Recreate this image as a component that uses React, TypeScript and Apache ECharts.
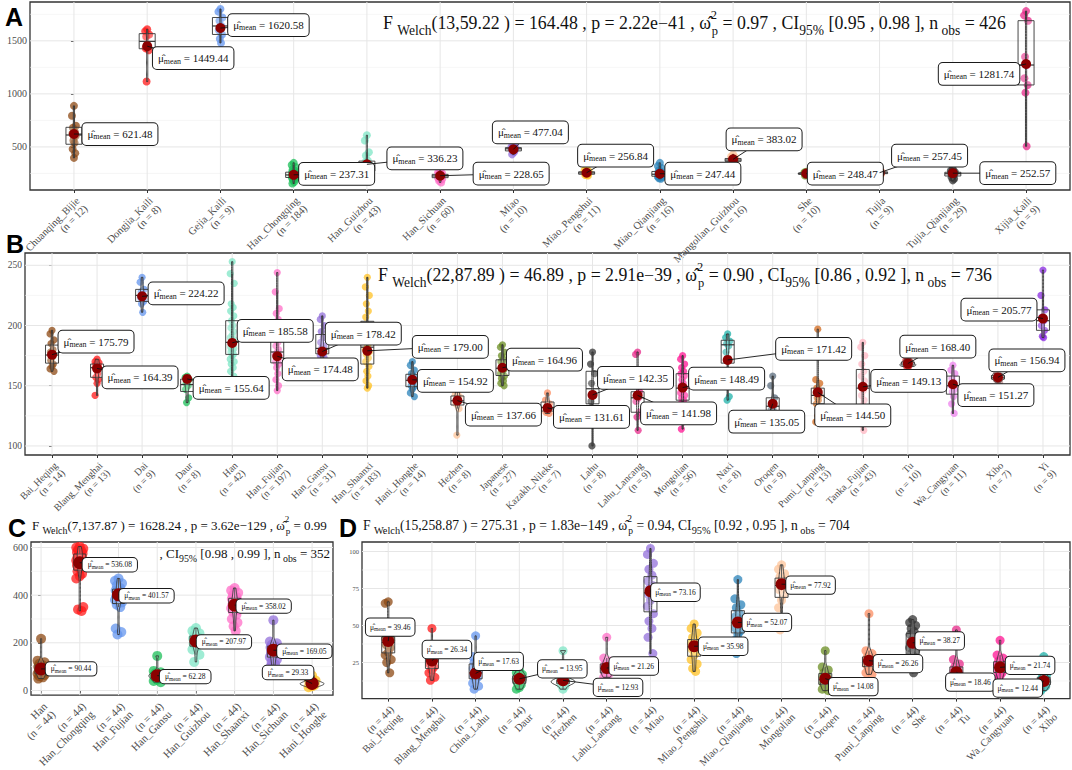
import React, { useEffect, useRef } from "react";
import * as echarts from "echarts";

const SERIF = '"Liberation Serif", "DejaVu Serif", "Times New Roman", serif';
const SANS = '"Liberation Sans", Arial, sans-serif';

// ---------------- shared palette (by category position) ----------------
const palette = [
  "#8E4A14", "#FF1A1A", "#6495ED", "#1DBF5A", "#7FE5C6", "#FF6EC7", "#9370DB", "#FFC125",
  "#2B83BA", "#FDC49A", "#6B8E23", "#FC8D62", "#333333", "#E7298A", "#FF1493", "#20B2AA",
  "#5B6C7D", "#D2691E", "#FFB6C1", "#CD2626", "#EE82EE", "#BC8F8F", "#8A2BE2",
];

// ---------------- Panel A ----------------
const catsA = ["Chuanqing_Bijie", "Dongjia_Kaili", "Gejia_Kaili", "Han_Chongqing", "Han_Guizhou", "Han_Sichuan", "Miao", "Miao_Pengshui", "Miao_Qianjiang", "Mongolian_Guizhou", "She", "Tujia", "Tujia_Qianjiang", "Xijia_Kaili"];
const nA = [12, 8, 9, 184, 43, 60, 10, 11, 16, 16, 10, 9, 29, 9];
const meanA = [621.48, 1449.44, 1620.58, 237.31, 336.23, 228.65, 477.04, 256.84, 247.44, 383.02, 248.47, 257.45, 252.57, 1281.74];
const pointsA = [
  [887, 794, 700, 680, 640, 625, 600, 560, 540, 481, 440, 397],
  [1609, 1590, 1560, 1540, 1450, 1430, 1412, 1116],
  [1800, 1775, 1720, 1690, 1640, 1600, 1560, 1520, 1480],
  [350, 330, 310, 290, 275, 262, 255, 250, 245, 240, 236, 232, 228, 224, 220, 212, 205, 195, 185, 170, 155],
  [610, 560, 450, 420, 370, 355, 345, 335, 325, 315, 300, 290, 280, 270, 262, 255, 245, 235],
  [275, 262, 252, 245, 240, 235, 231, 228, 225, 222, 218, 212, 205, 195, 180, 165],
  [510, 500, 495, 490, 485, 480, 470, 460, 450, 430],
  [290, 280, 270, 262, 258, 255, 250, 245, 240, 235, 230],
  [350, 320, 300, 280, 265, 255, 250, 245, 240, 235, 230, 225, 220, 215, 205, 200],
  [430, 410, 400, 395, 390, 385, 380, 378, 375, 372, 370, 365, 360, 355, 350, 345],
  [265, 260, 255, 252, 250, 248, 245, 242, 238, 230],
  [285, 275, 265, 260, 255, 250, 248, 245, 235],
  [290, 275, 265, 260, 255, 250, 245, 240, 230, 215, 200, 185],
  [1780, 1740, 1690, 1350, 1272, 1147, 1084, 1012, 506],
];
const yTicksA = [500, 1000, 1500];
const yMinorA = [250, 750, 1250, 1750];
const titleA = "{t|F }{s|Welch}{t|(13,59.22 ) = 164.48 , p = 2.22e\u221241 , \u03C9\u0302}{sp|2}{sb|p}{t| = 0.97 , CI}{s|95%}{t| [0.95 , 0.98 ], n}{s| obs}{t| = 426}";

// ---------------- Panel B ----------------
const catsB = ["Bai_Heqing", "Blang_Menghai", "Dai", "Daur", "Han", "Han_Fujian", "Han_Gansu", "Han_Shaanxi", "Hani_Honghe", "Hezhen", "Japanese", "Kazakh_Nileke", "Lahu", "Lahu_Lancang", "Mongolian", "Naxi", "Oroqen", "Pumi_Lanping", "Tanka_Fujian", "Tu", "Wa_Cangyuan", "Xibo", "Yi"];
const nB = [14, 13, 9, 8, 42, 197, 31, 183, 14, 8, 27, 7, 8, 9, 56, 8, 9, 13, 43, 10, 11, 7, 9];
const meanB = [175.79, 164.39, 224.22, 155.64, 185.58, 174.48, 178.42, 179.0, 154.92, 137.66, 164.96, 131.61, 142.35, 141.98, 148.49, 171.42, 135.05, 144.5, 149.13, 168.4, 151.27, 156.94, 205.77];
const pointsB = [
  [196, 193, 188, 185, 180, 178, 176, 175, 174, 171, 168, 166, 164, 162],
  [172, 170, 169, 168, 167, 166, 165, 163, 160, 157, 155, 152, 142],
  [240, 236, 230, 228, 225, 223, 220, 218, 211],
  [158, 157, 155, 152, 150, 147, 140, 136],
  [253, 243, 235, 218, 215, 212, 208, 204, 200, 198, 195, 192, 190, 188, 186, 184, 182, 181, 180, 179, 178, 176, 175, 172, 170, 168, 165, 162, 158],
  [244, 228, 214, 210, 205, 200, 195, 190, 186, 183, 180, 178, 176, 175, 174, 172, 170, 168, 165, 160, 155, 150, 146],
  [208, 205, 200, 195, 190, 186, 183, 181, 179, 178, 177, 176, 175, 173, 170],
  [240, 232, 225, 218, 212, 207, 200, 196, 192, 188, 185, 182, 180, 178, 176, 173, 170, 166, 162, 158, 154, 150, 148],
  [170, 167, 163, 160, 158, 156, 155, 154, 152, 150, 149, 147, 144, 141],
  [145, 143, 141, 138, 137, 135, 131, 109],
  [184, 182, 178, 175, 172, 170, 168, 166, 165, 164, 163, 162, 160, 158, 156, 154, 152, 150],
  [144, 138, 135, 132, 130, 128, 127],
  [178, 168, 160, 152, 143, 137, 129, 100],
  [178, 176, 145, 142, 140, 137, 128, 124, 113],
  [175, 172, 168, 165, 162, 160, 158, 155, 152, 150, 148, 146, 144, 142, 140, 138, 135, 130, 125, 120, 114],
  [193, 190, 187, 185, 183, 178, 141, 138],
  [158, 150, 140, 136, 133, 130, 128, 126, 124],
  [197, 155, 152, 148, 146, 144, 142, 140, 138, 135, 130, 125, 120],
  [186, 182, 175, 168, 162, 158, 154, 150, 146, 142, 138, 134, 128, 122, 118, 113],
  [172, 171, 170, 169, 168, 168, 167, 167, 166, 166],
  [167, 163, 160, 156, 153, 150, 147, 145, 141, 135, 127],
  [160, 159, 158, 157, 156, 155, 153],
  [246, 225, 213, 207, 204, 200, 196, 191, 190],
];
const yTicksB = [100, 150, 200, 250];
const yMinorB = [125, 175, 225];
const titleB = "{t|F }{s|Welch}{t|(22,87.89 ) = 46.89 , p = 2.91e\u221239 , \u03C9\u0302}{sp|2}{sb|p}{t| = 0.90 , CI}{s|95%}{t| [0.86 , 0.92 ], n}{s| obs}{t| = 736}";

// ---------------- Panel C ----------------
const catsC = ["Han", "Han_Chongqing", "Han_Fujian", "Han_Gansu", "Han_Guizhou", "Han_Shaanxi", "Han_Sichuan", "Hani_Honghe"];
const nC = [44, 44, 44, 44, 44, 44, 44, 44];
const meanC = [90.44, 536.08, 401.57, 62.28, 207.97, 358.02, 169.05, 29.33];
const pointsC = [
  [217, 125, 118, 112, 106, 100, 95, 90, 86, 82, 78, 74, 70, 65, 60, 55, 50],
  [604, 600, 595, 590, 585, 580, 575, 570, 565, 560, 555, 550, 545, 540, 535, 530, 525, 520, 515, 510, 500, 490, 480, 470, 350, 340, 334],
  [470, 460, 450, 440, 430, 420, 412, 405, 400, 395, 390, 385, 380, 370, 360, 350, 260, 245, 235],
  [145, 82, 76, 72, 68, 65, 62, 60, 58, 55, 50, 45, 40, 35],
  [262, 250, 240, 232, 225, 218, 212, 207, 202, 196, 190, 182, 172, 150, 120],
  [430, 420, 410, 400, 392, 385, 378, 372, 366, 360, 355, 350, 345, 338, 330, 318, 300, 285, 270, 250],
  [295, 205, 198, 192, 186, 180, 175, 170, 165, 160, 155, 150, 140, 130, 120, 110, 100],
  [62, 50, 42, 38, 34, 32, 30, 28, 26, 24, 22, 18, 14],
];
const yTicksC = [0, 200, 400, 600];
const yMinorC = [100, 300, 500];
const titleC1 = "{t|F }{s|Welch}{t|(7,137.87 ) = 1628.24 , p = 3.62e\u2212129 , \u03C9\u0302}{sp|2}{sb|p}{t| = 0.99}";
const titleC2 = "{t|, CI}{s|95%}{t| [0.98 , 0.99 ], n}{s| obs}{t| = 352}";

// ---------------- Panel D ----------------
const catsD = ["Bai_Heqing", "Blang_Menghai", "China_Lahu", "Daur", "Hezhen", "Lahu_Lancang", "Miao", "Miao_Pengshui", "Miao_Qianjiang", "Mongolian", "Oroqen", "Pumi_Lanping", "She", "Tu", "Wa_Cangyuan", "Xibo"];
const nD = [44, 44, 44, 44, 44, 44, 44, 44, 44, 44, 44, 44, 44, 44, 44, 44];
const meanD = [39.46, 26.34, 17.63, 13.95, 12.93, 21.26, 73.16, 35.98, 52.07, 77.92, 14.08, 26.26, 38.27, 18.46, 21.74, 12.44];
const pointsD = [
  [66, 65, 45, 43, 42, 41, 40, 39, 38, 37, 35, 32, 30, 27, 25, 18],
  [48, 33, 31, 30, 29, 28, 27, 26, 25, 24, 22, 20, 18, 15, 13],
  [43, 29, 27, 25, 23, 21, 19, 18, 17, 16, 15, 13, 11, 9, 7],
  [20, 18, 17, 16, 15, 14, 14, 13, 12, 11, 10, 8, 7],
  [33, 15, 14, 13, 13, 12, 12, 11, 11, 10, 9, 7],
  [42, 28, 26, 24, 23, 22, 21, 20, 19, 18, 17, 16, 15],
  [102, 98, 92, 88, 84, 80, 77, 75, 73, 71, 69, 67, 63, 58, 53, 48, 42, 31],
  [51, 48, 45, 42, 40, 38, 37, 36, 35, 34, 32, 30, 27, 24, 21, 19],
  [81, 68, 64, 62, 58, 56, 54, 52, 50, 48, 46, 44, 40, 37, 31],
  [91, 88, 85, 83, 81, 79, 78, 77, 76, 74, 71, 67, 62, 55, 47],
  [33, 22, 20, 18, 16, 15, 14, 13, 12, 11, 10, 9, 7, 6],
  [58, 33, 31, 29, 28, 27, 26, 25, 24, 23, 22, 20, 18, 17],
  [54, 52, 50, 48, 46, 44, 42, 40, 39, 38, 37, 36, 35, 33, 31, 29, 27, 24, 21, 18],
  [47, 27, 24, 22, 20, 19, 18, 17, 16, 15, 14, 12, 10],
  [40, 30, 28, 26, 24, 23, 22, 21, 20, 19, 18, 16, 14, 11],
  [29, 20, 17, 15, 14, 13, 12, 12, 11, 10, 9, 8, 6],
];
const yTicksD = [25, 50, 75, 100];
const yMinorD = [12.5, 37.5, 62.5, 87.5];
const titleD = "{t|F }{s|Welch}{t|(15,258.87 ) = 275.31 , p = 1.83e\u2212149 , \u03C9\u0302}{sp|2}{sb|p}{t| = 0.94, CI}{s|95%}{t| [0.92 , 0.95 ], n}{s| obs}{t| = 704}";

// ---------------- layout (positions / sizes / styles) ----------------
const labelOffA = [[46, 0], [46, 12], [48, -3], [43, -1], [58, -6], [71, -2], [17, -17], [29, -17], [43, 0], [31, -20], [39, 0], [50, -17], [65, 0], [-47, 10]];
const labelOffB = [[44, -13], [43, 9], [44, -3], [44, 9], [43, -12], [43, 13], [41, -18], [83, -4], [43, 1], [46, 14], [42, -8], [44, 9], [43, -17], [41, 18], [44, -9], [86, -11], [-6, 18], [35, 23], [46, -6], [30, -17], [43, 11], [29, -17], [-44, -9]];
const labelOffC = [[30, 0], [30, 2], [28, 1], [28, 1], [28, 1], [29, 1], [31, 1], [-24, -11]];
const labelOffD = [[2, -14], [15, -11], [23, -12], [43, -10], [55, 7], [27, -2], [25, 1], [29, 0], [29, 0], [29, 1], [28, 8], [29, 3], [27, -2], [14, 10], [30, -2], [-26, 7]];

type Panel = any;

const panels: Panel[] = [
  {
    cats: catsA, ns: nA, means: meanA, pts: pointsA, off: labelOffA,
    xLabel: (i: number) => `${catsA[i]}\n(n = ${nA[i]})`,
    grid: { left: 30, top: 2, width: 1040, height: 188 },
    xMin: -0.6, xMax: 13.6, yMin: 94, yMax: 1866, yMajor: yTicksA, yMinor: yMinorA,
    boxW: 16, violinHalf: 8, ptR: 4, meanR: 5, jitter: 2, labelFs: 11, labelPad: [4, 5], yFs: 10, xFs: 10.5,
  },
  {
    cats: catsB, ns: nB, means: meanB, pts: pointsB, off: labelOffB,
    xLabel: (i: number) => `${catsB[i]}\n(n = ${nB[i]})`,
    grid: { left: 25, top: 253, width: 1045, height: 202 },
    xMin: -0.6, xMax: 22.6, yMin: 92.5, yMax: 260.2, yMajor: yTicksB, yMinor: yMinorB,
    boxW: 13, violinHalf: 8, ptR: 3.6, meanR: 5, jitter: 2, labelFs: 11, labelPad: [4, 5], yFs: 9.5, xFs: 10,
  },
  {
    cats: catsC, ns: nC, means: meanC, pts: pointsC, off: labelOffC,
    xLabel: (i: number) => (i === 0 ? `${catsC[i]}\n(n = ${nC[i]})` : `(n = ${nC[i]})\n${catsC[i]}`),
    grid: { left: 31, top: 542, width: 302, height: 165 },
    xMin: -0.26, xMax: 7.54, yMin: -19.5, yMax: 623, yMajor: yTicksC, yMinor: yMinorC,
    boxW: 12, violinHalf: 12, ptR: 5, meanR: 6.5, jitter: 3.5, labelFs: 7.5, labelPad: [2, 5], yFs: 10, xFs: 11,
  },
  {
    cats: catsD, ns: nD, means: meanD, pts: pointsD, off: labelOffD,
    xLabel: (i: number) => `(n = ${nD[i]})\n${catsD[i]}`,
    grid: { left: 362, top: 542, width: 708, height: 165 },
    xMin: -0.6, xMax: 15.6, yMin: 0.6, yMax: 106.4, yMajor: yTicksD, yMinor: yMinorD,
    boxW: 13, violinHalf: 12, ptR: 4.5, meanR: 6, jitter: 3, labelFs: 7.5, labelPad: [4, 4], yFs: 6.5, xFs: 10.5,
  },
];

// ---------------- helpers ----------------
function quantile(s: number[], p: number) {
  const pos = (s.length - 1) * p;
  const lo = Math.floor(pos);
  const hi = Math.ceil(pos);
  return s[lo] + (s[hi] - s[lo]) * (pos - lo);
}
function boxStats(vals: number[]) {
  const s = [...vals].sort((a, b) => a - b);
  const q1 = quantile(s, 0.25), med = quantile(s, 0.5), q3 = quantile(s, 0.75);
  const iqr = q3 - q1;
  const lo = s.find((v) => v >= q1 - 1.5 * iqr) as number;
  const hi = [...s].reverse().find((v) => v <= q3 + 1.5 * iqr) as number;
  return { q1, med, q3, lo, hi };
}
function kde(vals: number[], m = 48) {
  const s = [...vals].sort((a, b) => a - b);
  const n = s.length;
  const mean = s.reduce((a, b) => a + b, 0) / n;
  const sd = Math.sqrt(s.reduce((a, b) => a + (b - mean) * (b - mean), 0) / (n - 1));
  const iqr = quantile(s, 0.75) - quantile(s, 0.25);
  let lo = Math.min(sd, iqr / 1.34);
  if (!(lo > 0)) lo = sd > 0 ? sd : 1;
  const bw = 0.9 * lo * Math.pow(n, -0.2);
  const ys: number[] = [];
  const ds: number[] = [];
  for (let j = 0; j <= m; j++) {
    const y = s[0] + ((s[n - 1] - s[0]) * j) / m;
    let d = 0;
    for (const v of s) {
      const z = (y - v) / bw;
      d += Math.exp(-0.5 * z * z);
    }
    ys.push(y);
    ds.push(d / (n * bw * Math.sqrt(2 * Math.PI)));
  }
  return { ys, ds };
}
const jitterPattern = [0, -1, 1, -0.5, 0.5, -0.8, 0.8, -0.3, 0.3, -0.65, 0.65];

function alpha(hex: string, a: number) {
  const h = hex.replace("#", "");
  const r = parseInt(h.slice(0, 2), 16), g = parseInt(h.slice(2, 4), 16), b = parseInt(h.slice(4, 6), 16);
  return `rgba(${r},${g},${b},${a})`;
}

function statRich(fs: number) {
  return {
    t: { fontFamily: SERIF, fontSize: fs, fill: "#111", lineHeight: fs * 1.6, align: "left" },
    s: { fontFamily: SERIF, fontSize: fs * 0.76, fill: "#111", lineHeight: fs * 0.9, verticalAlign: "bottom", align: "left" },
    sb: { fontFamily: SERIF, fontSize: fs * 0.7, fill: "#111", lineHeight: fs * 0.85, verticalAlign: "bottom", align: "left" },
    sp: { fontFamily: SERIF, fontSize: fs * 0.7, fill: "#111", lineHeight: fs * 0.85, verticalAlign: "top", width: 1, align: "left" },
  };
}

function buildOption() {
  const grids: any[] = [];
  const xAxes: any[] = [];
  const yAxes: any[] = [];
  const gridSeries: any[] = [];
  const markSeries: any[] = [];
  const labelSeries: any[] = [];

  panels.forEach((P: Panel, k: number) => {
    const idxs = P.cats.map((_: string, i: number) => i);
    grids.push({ ...P.grid, show: true, borderColor: "#333", borderWidth: 1.3, backgroundColor: "#fff" });
    xAxes.push({
      type: "value", gridIndex: k, min: P.xMin, max: P.xMax,
      axisLine: { show: false }, splitLine: { show: false },
      axisTick: { show: true, customValues: idxs, length: 3, lineStyle: { color: "#333", width: 1 } },
      axisLabel: {
        customValues: idxs, rotate: 45, align: "right", verticalAlign: "top", margin: 5,
        formatter: (v: number) => P.xLabel(Math.round(v)),
        fontFamily: SERIF, fontSize: P.xFs, lineHeight: P.xFs * 1.05, color: "#4D4D4D",
      },
    });
    yAxes.push({
      type: "value", gridIndex: k, min: P.yMin, max: P.yMax,
      axisLine: { show: false }, splitLine: { show: false },
      axisTick: { show: true, customValues: P.yMajor, length: 3, lineStyle: { color: "#333", width: 1 } },
      axisLabel: { customValues: P.yMajor, margin: 3, fontFamily: SERIF, fontSize: P.yFs, color: "#4D4D4D", formatter: (v: number) => String(v) },
    });

    // grid lines
    gridSeries.push({
      type: "custom", xAxisIndex: k, yAxisIndex: k, silent: true,
      data: [[0, P.yMajor[1]]],
      renderItem: (params: any, api: any) => {
        const cs = params.coordSys;
        const ch: any[] = [];
        P.yMinor.forEach((v: number) => {
          const y = api.coord([0, v])[1];
          ch.push({ type: "line", shape: { x1: cs.x, y1: y, x2: cs.x + cs.width, y2: y }, style: { stroke: "#F0F0F0", lineWidth: 0.6 } });
        });
        P.yMajor.forEach((v: number) => {
          const y = api.coord([0, v])[1];
          ch.push({ type: "line", shape: { x1: cs.x, y1: y, x2: cs.x + cs.width, y2: y }, style: { stroke: "#E6E6E6", lineWidth: 1 } });
        });
        idxs.forEach((i: number) => {
          const x = api.coord([i, P.yMajor[0]])[0];
          ch.push({ type: "line", shape: { x1: x, y1: cs.y, x2: x, y2: cs.y + cs.height }, style: { stroke: "#E6E6E6", lineWidth: 1 } });
        });
        return { type: "group", children: ch };
      },
    });

    const kdes = P.pts.map((g: number[]) => kde(g));
    const maxD = Math.max(...kdes.map((d: any) => Math.max(...d.ds)));
    const stats = P.pts.map((g: number[]) => boxStats(g));

    markSeries.push({
      type: "custom", xAxisIndex: k, yAxisIndex: k, silent: true, clip: true,
      data: P.means.map((m: number, i: number) => [i, m]),
      renderItem: (params: any, api: any) => {
        const i = params.dataIndex;
        const col = palette[i % palette.length];
        const st = stats[i];
        const cx = api.coord([i, st.med])[0];
        const Y = (v: number) => api.coord([i, v])[1];
        const ch: any[] = [];
        P.pts[i].forEach((v: number, j: number) => {
          ch.push({ type: "circle", shape: { cx: cx + jitterPattern[j % jitterPattern.length] * P.jitter, cy: Y(v), r: P.ptR }, style: { fill: alpha(col, 0.75) } });
        });
        ch.push({ type: "line", shape: { x1: cx, y1: Y(st.hi), x2: cx, y2: Y(st.q3) }, style: { stroke: "#333", lineWidth: 1 } });
        ch.push({ type: "line", shape: { x1: cx, y1: Y(st.q1), x2: cx, y2: Y(st.lo) }, style: { stroke: "#333", lineWidth: 1 } });
        const yq3 = Y(st.q3), yq1 = Y(st.q1);
        ch.push({ type: "rect", shape: { x: cx - P.boxW / 2, y: yq3, width: P.boxW, height: Math.max(yq1 - yq3, 0.5) }, style: { fill: "rgba(255,255,255,0.2)", stroke: "#333", lineWidth: 0.9 } });
        ch.push({ type: "line", shape: { x1: cx - P.boxW / 2, y1: Y(st.med), x2: cx + P.boxW / 2, y2: Y(st.med) }, style: { stroke: "#333", lineWidth: 1.2 } });
        const kd = kdes[i];
        const left: number[][] = [];
        const right: number[][] = [];
        kd.ys.forEach((y: number, j: number) => {
          const w = Math.max((kd.ds[j] / maxD) * P.violinHalf, 0.6);
          const py = Y(y);
          left.push([cx - w, py]);
          right.push([cx + w, py]);
        });
        ch.push({ type: "polygon", shape: { points: left.concat(right.reverse()) }, style: { fill: "rgba(255,255,255,0.2)", stroke: "#333", lineWidth: 0.9 } });
        ch.push({ type: "circle", shape: { cx, cy: Y(P.means[i]), r: P.meanR }, style: { fill: "#8B0000" } });
        return { type: "group", children: ch };
      },
    });

    const fs = P.labelFs;
    labelSeries.push({
      type: "custom", xAxisIndex: k, yAxisIndex: k, silent: true, clip: false,
      data: P.means.map((m: number, i: number) => [i, m]),
      renderItem: (params: any, api: any) => {
        const i = params.dataIndex;
        const [mx, my] = api.coord([i, P.means[i]]);
        const [dx, dy] = P.off[i];
        const lx = mx + dx, ly = my + dy;
        return {
          type: "group",
          children: [
            { type: "line", shape: { x1: mx, y1: my, x2: lx, y2: ly }, style: { stroke: "#111", lineWidth: 0.9 } },
            {
              type: "text", x: lx, y: ly,
              style: {
                text: `{mu|\u03BC\u0302}{mn|mean}{t| = ${P.means[i].toFixed(2)}}`,
                rich: {
                  mu: { fontFamily: SERIF, fontSize: fs, fill: "#111", lineHeight: fs * 1.25 },
                  mn: { fontFamily: SERIF, fontSize: fs * 0.72, fill: "#111", lineHeight: fs * 0.9, verticalAlign: "bottom" },
                  t: { fontFamily: SERIF, fontSize: fs, fill: "#111", lineHeight: fs * 1.25 },
                },
                align: "center", verticalAlign: "middle",
                backgroundColor: "#fff", borderColor: "#1a1a1a", borderWidth: 1, borderRadius: 4,
                padding: P.labelPad,
              },
            },
          ],
        };
      },
    });
  });

  const graphic: any[] = [
    { type: "text", x: 5, y: 17, z: 100, style: { text: "A", font: `bold 25px ${SANS}`, fill: "#000", verticalAlign: "middle" } },
    { type: "text", x: 6, y: 244, z: 100, style: { text: "B", font: `bold 25px ${SANS}`, fill: "#000", verticalAlign: "middle" } },
    { type: "text", x: 8, y: 528, z: 100, style: { text: "C", font: `bold 25px ${SANS}`, fill: "#000", verticalAlign: "middle" } },
    { type: "text", x: 339, y: 528, z: 100, style: { text: "D", font: `bold 25px ${SANS}`, fill: "#000", verticalAlign: "middle" } },
    { type: "text", x: 383, y: 23, z: 100, style: { text: titleA, rich: statRich(17.8), align: "left", verticalAlign: "middle", fill: "#111", font: `17.8px ${SERIF}` } },
    { type: "text", x: 378, y: 275, z: 100, style: { text: titleB, rich: statRich(17.8), align: "left", verticalAlign: "middle", fill: "#111", font: `17.8px ${SERIF}` } },
    { type: "text", x: 32, y: 525, z: 100, style: { text: titleC1, rich: statRich(13), align: "left", verticalAlign: "middle", fill: "#111", font: `13px ${SERIF}` } },
    { type: "text", x: 330, y: 553, z: 100, style: { text: titleC2, rich: statRich(13), align: "right", verticalAlign: "middle", fill: "#111", font: `13px ${SERIF}` } },
    { type: "text", x: 363, y: 525, z: 100, style: { text: titleD, rich: statRich(13.6), align: "left", verticalAlign: "middle", fill: "#111", font: `13.6px ${SERIF}` } },
  ];

  return {
    animation: false,
    backgroundColor: "#fff",
    grid: grids,
    xAxis: xAxes,
    yAxis: yAxes,
    series: [...gridSeries, ...markSeries, ...labelSeries],
    graphic,
  };
}

export default function App() {
  const ref = useRef<HTMLDivElement>(null);
  useEffect(() => {
    if (!ref.current) return;
    const chart = echarts.init(ref.current, undefined, { renderer: "svg" });
    chart.setOption(buildOption() as any);
    return () => chart.dispose();
  }, []);
  return <div ref={ref} style={{ position: "absolute", left: 0, top: 0, width: 1072, height: 770 }} />;
}
